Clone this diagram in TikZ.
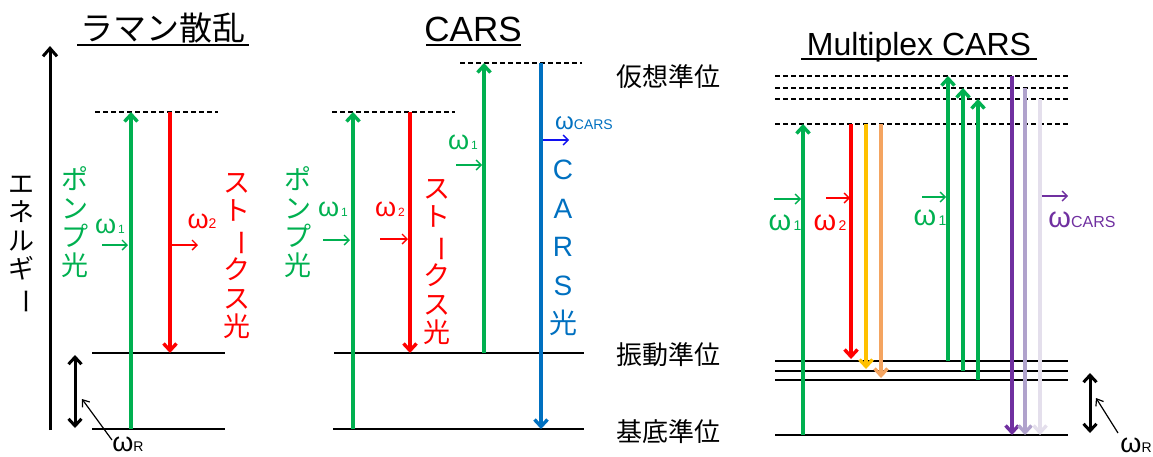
\documentclass[tikz,border=0pt]{standalone}
\usepackage{fontspec}
\usepackage{graphicx}
\setmainfont{Liberation Sans}
\newfontfamily\jp{Noto Sans CJK JP}
\usetikzlibrary{arrows.meta}
\definecolor{cgreen}{HTML}{00B050}
\definecolor{cred}{HTML}{FF0000}
\definecolor{cblue}{HTML}{0070C0}
\definecolor{cpureblue}{HTML}{1010F0}
\definecolor{cyellow}{HTML}{FFC000}
\definecolor{corange}{HTML}{F4A460}
\definecolor{cpurple}{HTML}{7030A0}
\definecolor{clpurple}{HTML}{B0A2CC}
\definecolor{cvlpurple}{HTML}{E4DFEC}
\newcommand\omg[3]{{\fontsize{#1}{#1}\selectfont ω}{\fontsize{#2}{#2}\selectfont #3}}
\newcommand\vbar{\rotatebox[origin=c]{-90}{ー}}
\begin{document}
\begin{tikzpicture}[x=1pt,y=-1pt,
  level/.style={line width=2pt,black},
  virt/.style={line width=1.5pt,black,dash pattern=on 5pt off 3pt},
  beam/.style={line width=3.4pt,-{Straight Barb[length=7pt,width=13pt]}},
  smallarr/.style={line width=1.4pt,-{Straight Barb[length=5pt,width=10pt]}},
  dbl/.style={line width=3pt,{Straight Barb[length=7pt,width=13pt]}-{Straight Barb[length=7pt,width=13pt]}},
  thin/.style={line width=1.2pt,-{Straight Barb[length=6pt,width=9pt]}},
  vtext/.style={align=center,inner sep=0pt,font=\jp\fontsize{27}{28.5}\selectfont},
  lbl/.style={inner sep=0pt,font=\jp\fontsize{26}{26}\selectfont},
  title/.style={inner sep=0pt,anchor=base}]
\useasboundingbox (0,0) rectangle (1153,456);

% ===== Panel 1: Raman =====
\node[title,font=\jp\fontsize{33}{33}\selectfont] (t1) at (163,40) {ラマン散乱};
\draw[line width=2pt] (77,45) coordinate (t1a) -- (249,45) coordinate (t1b);
\coordinate (axb) at (50,430); \coordinate (axt) at (50,46);
\draw[line width=3pt,-{Straight Barb[length=8pt,width=14pt]}] (axb) -- (axt);
\node[vtext,font=\jp\fontsize{26}{28.5}\selectfont] (energy) at (22,245) {エ\\ネ\\ル\\ギ\\\vbar};
\coordinate (r1vl) at (95,112); \coordinate (r1vr) at (218,112);
\coordinate (r1el) at (92,353); \coordinate (r1er) at (225,353);
\coordinate (r1gl) at (92,429); \coordinate (r1gr) at (225,429);
\draw[virt] (r1vl) -- (r1vr);
\draw[level] (r1el) -- (r1er);
\draw[level] (r1gl) -- (r1gr);
\draw[beam,cgreen] (131,429) coordinate (r1p0) -- (131,112) coordinate (r1p1);
\draw[beam,cred] (170,112) coordinate (r1s0) -- (170,353) coordinate (r1s1);
\node[vtext,text=cgreen] (pump1) at (75,222) {ポ\\ン\\プ\\光};
\node[vtext,text=cred] (stokes1) at (237,256) {ス\\ト\\\vbar\\ク\\ス\\光};
\node[text=cgreen,inner sep=0pt,anchor=base] (w1a) at (110,233) {\omg{27}{12}{\,1}};
\draw[smallarr,cgreen] (102,245) coordinate (w1aa) -- (128,245) coordinate (w1ab);
\node[text=cred,inner sep=0pt,anchor=base] (w2a) at (202,228) {\omg{27}{14}{2}};
\draw[smallarr,cred] (172,245) coordinate (w2aa) -- (198,245) coordinate (w2ab);
\draw[dbl] (75,355) coordinate (r1d0) -- (75,428) coordinate (r1d1);
\node[inner sep=0pt,anchor=base] (wR1) at (128,451) {\omg{27}{14}{R}};
\draw[thin] (112,440) coordinate (wR1a) -- (82,399) coordinate (wR1b);

% ===== Panel 2: CARS =====
\node[title,font=\fontsize{35}{35}\selectfont] (t2) at (473,41) {CARS};
\draw[line width=2pt] (426,45) coordinate (t2a) -- (521,45) coordinate (t2b);
\coordinate (c1vl) at (332,112); \coordinate (c1vr) at (455,112);
\coordinate (c2vl) at (460,63); \coordinate (c2vr) at (582,63);
\coordinate (cel) at (334,353); \coordinate (cer) at (584,353);
\coordinate (cgl) at (333,429); \coordinate (cgr) at (584,429);
\draw[virt] (c1vl) -- (c1vr);
\draw[virt] (c2vl) -- (c2vr);
\draw[level] (cel) -- (cer);
\draw[level] (cgl) -- (cgr);
\draw[beam,cgreen] (353,429) coordinate (cp0) -- (353,112) coordinate (cp1);
\draw[beam,cred] (410,112) coordinate (cs0) -- (410,353) coordinate (cs1);
\draw[beam,cgreen] (484,353) coordinate (cq0) -- (484,63) coordinate (cq1);
\draw[beam,cblue] (541,63) coordinate (ca0) -- (541,429) coordinate (ca1);
\node[vtext,text=cgreen] (pump2) at (298,222) {ポ\\ン\\プ\\光};
\node[vtext,text=cred] (stokes2) at (437,262) {ス\\ト\\\vbar\\ク\\ス\\光};
\node[vtext,text=cblue,font=\fontsize{28}{38.5}\selectfont] (carsl) at (563,248) {C\\A\\R\\S\\{\jp 光}};
\node[text=cgreen,inner sep=0pt,anchor=base] (w1b) at (333,216) {\omg{27}{12}{\,1}};
\draw[smallarr,cgreen] (323,240) coordinate (w1ba) -- (350,240) coordinate (w1bb);
\node[text=cred,inner sep=0pt,anchor=base] (w2b) at (390,216) {\omg{27}{12}{\,2}};
\draw[smallarr,cred] (380,239) coordinate (w2ba) -- (408,239) coordinate (w2bb);
\node[text=cgreen,inner sep=0pt,anchor=base] (w1c) at (463,149) {\omg{27}{12}{\,1}};
\draw[smallarr,cgreen] (456,165) coordinate (w1ca) -- (482,165) coordinate (w1cb);
\node[text=cblue,inner sep=0pt,anchor=base] (wc2) at (584,129) {\omg{24}{14}{CARS}};
\draw[smallarr,cpureblue] (543,140) coordinate (wc2a) -- (569,140) coordinate (wc2b);

% ===== level labels =====
\node[lbl] (virtlbl) at (668,77) {仮想準位};
\node[lbl] (vibrlbl) at (668,355) {振動準位};
\node[lbl] (gndlbl) at (668,432) {基底準位};

% ===== Panel 3: Multiplex CARS =====
\node[title,font=\fontsize{32}{32}\selectfont] (t3) at (919,55) {Multiplex CARS};
\draw[line width=2pt] (801,59) coordinate (t3a) -- (1037,59) coordinate (t3b);
\foreach \y/\n in {76/a,88/b,99/c,124/d}{
  \draw[virt] (775,\y) coordinate (mv\n l) -- (1068,\y) coordinate (mv\n r);}
\foreach \y/\n in {361/a,371/b,380/c,435/g}{
  \draw[level] (775,\y) coordinate (me\n l) -- (1068,\y) coordinate (me\n r);}
\draw[beam,cgreen] (803,435) coordinate (mp0) -- (803,124) coordinate (mp1);
\draw[beam,cred] (851,124) coordinate (ms0) -- (851,359) coordinate (ms1);
\draw[beam,cyellow] (866,124) coordinate (my0) -- (866,369) coordinate (my1);
\draw[beam,corange] (881,124) coordinate (mo0) -- (881,378) coordinate (mo1);
\draw[beam,cgreen] (948,361) coordinate (mq0) -- (948,76) coordinate (mq1);
\draw[beam,cgreen] (963,371) coordinate (mr0) -- (963,88) coordinate (mr1);
\draw[beam,cgreen] (978,380) coordinate (mt0) -- (978,99) coordinate (mt1);
\draw[beam,cpurple] (1012,76) coordinate (mu0) -- (1012,435) coordinate (mu1);
\draw[beam,clpurple] (1025,88) coordinate (mw0) -- (1025,435) coordinate (mw1);
\draw[beam,cvlpurple] (1040,99) coordinate (mz0) -- (1040,435) coordinate (mz1);
\node[text=cgreen,inner sep=0pt,anchor=base] (w1d) at (785,230) {\omg{29}{14}{\,1}};
\draw[smallarr,cgreen] (774,199) coordinate (w1da) -- (801,199) coordinate (w1db);
\node[text=cred,inner sep=0pt,anchor=base] (w2d) at (830,230) {\omg{29}{14}{\,2}};
\draw[smallarr,cred] (826,198) coordinate (w2da) -- (850,198) coordinate (w2db);
\node[text=cgreen,inner sep=0pt,anchor=base] (w1e) at (930,225) {\omg{29}{14}{\,1}};
\draw[smallarr,cgreen] (922,197) coordinate (w1ea) -- (946,197) coordinate (w1eb);
\node[text=cpurple,inner sep=0pt,anchor=base] (wc3) at (1082,227) {\omg{29}{16}{CARS}};
\draw[smallarr,cpurple] (1042,196) coordinate (wc3a) -- (1068,196) coordinate (wc3b);
\draw[dbl] (1090,373) coordinate (md0) -- (1090,433) coordinate (md1);
\node[inner sep=0pt,anchor=base] (wR3) at (1136,452) {\omg{27}{14}{R}};
\draw[thin] (1118,433) coordinate (wR3a) -- (1096,398) coordinate (wR3b);
\end{tikzpicture}
\end{document}
